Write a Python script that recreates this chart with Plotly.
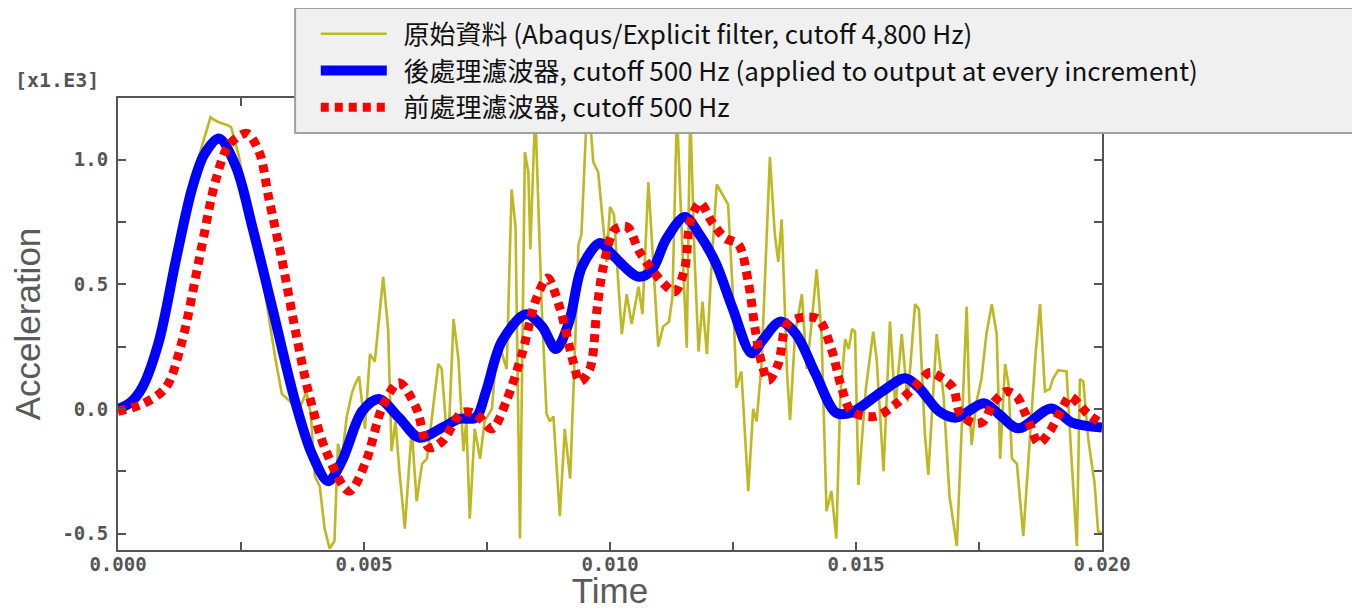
import numpy as np
import plotly.graph_objects as go

# ---------------- data (time in ms, acceleration in x1.E3) ----------------
raw_t_ms = [0, 0.3, 0.5, 0.8, 1.0, 1.2, 1.45, 1.7, 1.88, 1.95, 2.05, 2.2, 2.3, 2.45, 2.7, 3.0, 3.2,
            3.33, 3.5, 3.65, 3.83, 3.92, 4.0, 4.1, 4.2, 4.3, 4.4, 4.47, 4.55, 4.65, 4.75, 4.82, 4.9,
            5.02, 5.12, 5.22, 5.39, 5.49, 5.56, 5.64, 5.72, 5.83, 5.97, 6.07, 6.18, 6.28, 6.51, 6.58,
            6.66, 6.73, 6.82, 6.92, 7.02, 7.08, 7.15, 7.25, 7.36, 7.45, 7.6, 7.7, 7.77, 7.9, 8.0,
            8.08, 8.17, 8.27, 8.34, 8.38, 8.48, 8.61, 8.71, 8.78, 8.85, 8.98, 9.08, 9.19, 9.29, 9.36,
            9.42, 9.53, 9.6, 9.66, 9.76, 9.93, 10.0, 10.08, 10.17, 10.24, 10.34, 10.44, 10.58, 10.66,
            10.78, 10.88, 10.98, 11.08, 11.2, 11.27, 11.36, 11.48, 11.56, 11.63, 11.72, 11.8, 11.88,
            11.97, 12.07, 12.17, 12.28, 12.4, 12.5, 12.57, 12.67, 12.81, 12.91, 12.98, 13.08, 13.25,
            13.35, 13.42, 13.49, 13.6, 13.66, 13.76, 13.9, 14.0, 14.1, 14.2, 14.3, 14.4, 14.5, 14.6,
            14.68, 14.78, 14.85, 14.92, 14.98, 15.05, 15.2, 15.35, 15.42, 15.56, 15.69, 15.8, 15.85,
            15.93, 16.05, 16.2, 16.28, 16.4, 16.47, 16.64, 16.78, 16.9, 17.05, 17.15, 17.25, 17.3,
            17.35, 17.45, 17.55, 17.65, 17.76, 17.86, 17.93, 18.03, 18.1, 18.17, 18.27, 18.4, 18.55,
            18.65, 18.74, 18.84, 18.94, 19.0, 19.11, 19.28, 19.38, 19.49, 19.55, 19.62, 19.72, 19.85,
            19.92, 20.0]
raw_acc = [0.0, 0.03, 0.08, 0.25, 0.42, 0.62, 0.86, 1.05, 1.17, 1.16, 1.15, 1.14, 1.13, 1.02, 0.76,
           0.45, 0.2, 0.06, 0.03, -0.02, 0.07, -0.02, -0.27, -0.31, -0.48, -0.56, -0.53, -0.14, -0.2,
           -0.03, 0.06, 0.1, 0.13, -0.08, 0.22, 0.19, 0.53, 0.32, -0.17, -0.05, -0.25, -0.48, -0.08,
           -0.37, -0.22, -0.2, 0.18, 0.16, -0.05, -0.06, 0.36, 0.2, -0.17, -0.05, -0.44, -0.08, -0.2,
           -0.05, 0.0, 0.245, 0.245, 0.16, 0.88, 0.73, -0.52, 1.03, 0.95, 0.64, 1.2, 0.42, -0.02,
           -0.05, -0.03, -0.43, -0.08, -0.28, 0.25, 0.66, 0.7, 1.2, 1.15, 0.99, 0.95, 0.59, 0.81,
           0.78, 0.5, 0.3, 0.46, 0.34, 0.49, 0.38, 0.91, 0.6, 0.25, 0.33, 0.35, 0.45, 1.2, 0.6, 0.245,
           1.2, 0.6, 0.23, 0.43, 0.22, 0.6, 0.9, 0.86, 0.82, 0.45, 0.085, 0.15, -0.33, 0.0, -0.05,
           0.18, 1.01, 0.7, 0.59, 0.76, 0.14, -0.045, 0.3, 0.46, 0.16, 0.35, 0.56, 0.3, -0.41, -0.33,
           -0.52, 0.05, 0.28, 0.24, 0.32, 0.31, -0.305, 0.08, 0.31, 0.2, -0.25, 0.35, 0.0, 0.12, 0.3,
           0.03, 0.42, 0.4, -0.1, -0.265, 0.3, 0.05, -0.35, -0.55, -0.08, 0.41, 0.05, -0.145, 0.03,
           0.12, 0.3, 0.42, 0.3, -0.2, 0.18, 0.1, -0.2, -0.22, -0.51, -0.08, 0.22, 0.42, 0.07, 0.08,
           0.12, 0.155, 0.15, -0.2, -0.55, 0.12, 0.11, -0.12, -0.3, -0.49, -0.5]

post_t_ms = [0, 0.25, 0.49, 0.83, 1.18, 1.5, 1.75, 2.05, 2.4, 2.73, 3.13, 3.6, 3.94, 4.27, 4.55, 4.96,
             5.3, 5.71, 6.12, 6.59, 6.93, 7.27, 7.48, 7.8, 8.29, 8.62, 8.9, 9.17, 9.43, 9.8, 10.04,
             10.58, 10.85, 11.14, 11.52, 11.8, 12.15, 12.48, 12.88, 13.1, 13.46, 13.78, 14.18, 14.59,
             14.9, 15.53, 16.0, 16.28, 16.69, 17.04, 17.6, 17.9, 18.3, 18.97, 19.39, 20.0]
post_acc = [0.0, 0.025, 0.085, 0.27, 0.60, 0.88, 1.02, 1.085, 0.97, 0.73, 0.41, 0.03, -0.18, -0.29,
            -0.21, -0.01, 0.04, -0.035, -0.115, -0.075, -0.04, -0.035, 0.07, 0.27, 0.38, 0.33, 0.24,
            0.35, 0.57, 0.665, 0.62, 0.53, 0.556, 0.68, 0.77, 0.705, 0.585, 0.41, 0.223, 0.275, 0.35,
            0.30, 0.14, -0.015, -0.015, 0.07, 0.123, 0.085, -0.01, -0.035, 0.023, -0.02, -0.078,
            0.002, -0.055, -0.075]

pre_t_ms = [0, 0.5, 0.97, 1.3, 1.65, 1.99, 2.26, 2.62, 2.87, 3.07, 3.33, 3.62, 3.88, 4.23, 4.7, 5.04,
            5.37, 5.71, 6.06, 6.32, 6.59, 6.99, 7.27, 7.6, 7.89, 8.21, 8.5, 8.73, 8.98, 9.25, 9.39,
            9.59, 9.73, 9.86, 10.1, 10.35, 10.6, 11.1, 11.32, 11.52, 11.63, 11.83, 12.07, 12.34,
            12.61, 12.81, 12.95, 13.08, 13.22, 13.42, 13.59, 13.83, 14.23, 14.5, 14.71, 14.91, 15.39,
            15.83, 16.23, 16.5, 16.77, 16.98, 17.11, 17.4, 17.59, 17.79, 18.06, 18.27, 18.4, 18.55,
            18.71, 18.94, 19.21, 19.35, 19.55, 19.71, 20.0]
pre_acc = [-0.01, 0.02, 0.085, 0.27, 0.60, 0.92, 1.06, 1.105, 1.03, 0.84, 0.60, 0.30, 0.06, -0.17,
           -0.33, -0.21, 0.005, 0.105, 0.005, -0.155, -0.13, -0.015, -0.02, -0.08, 0.03, 0.22, 0.44,
           0.525, 0.405, 0.19, 0.11, 0.16, 0.39, 0.565, 0.72, 0.73, 0.63, 0.50, 0.47, 0.565, 0.75,
           0.826, 0.75, 0.685, 0.66, 0.51, 0.32, 0.185, 0.115, 0.18, 0.337, 0.364, 0.36, 0.24, 0.083,
           -0.01, -0.03, 0.023, 0.096, 0.146, 0.12, 0.083, -0.016, -0.058, -0.05, 0.023, 0.07, 0.05,
           0.0, -0.07, -0.138, -0.09, 0.01, 0.05, 0.015, -0.02, -0.06]

series_names = ["原始資料 (Abaqus/Explicit filter, cutoff 4,800 Hz)",
                "後處理濾波器, cutoff 500 Hz (applied to output at every increment)",
                "前處理濾波器, cutoff 500 Hz"]

x_tick_vals = [0.0, 0.0025, 0.005, 0.0075, 0.010, 0.0125, 0.015, 0.0175, 0.020]
x_tick_text = ["0.000", "", "0.005", "", "0.010", "", "0.015", "", "0.020"]
y_tick_vals = [-0.5, -0.25, 0.0, 0.25, 0.5, 0.75, 1.0]
y_tick_text = ["-0.5", "", "0.0", "", "0.5", "", "1.0"]

# ---------------- figure ----------------
ms = 1e-3
gap = "\u00a0\u00a0"
fig = go.Figure()
fig.add_trace(go.Scatter(x=np.array(raw_t_ms) * ms, y=raw_acc, mode="lines", name=gap + series_names[0],
                         line=dict(color="rgb(190,184,34)", width=2.6)))
fig.add_trace(go.Scatter(x=np.array(post_t_ms) * ms, y=post_acc, mode="lines", name=gap + series_names[1],
                         line=dict(color="#0000ff", width=10, shape="spline", smoothing=0.9)))
fig.add_trace(go.Scatter(x=np.array(pre_t_ms) * ms, y=pre_acc, mode="lines", name=gap + series_names[2],
                         line=dict(color="#ff0000", width=9, dash="8px,6px", shape="spline",
                                   smoothing=0.9)))

tick_font = dict(family="DejaVu Sans Mono", size=19, color="#555555", weight="bold")
title_font = dict(family="Liberation Sans", size=35, color="#5a5a5a")

# page has an 8px body margin: figure is 8px smaller and margins shifted accordingly
fig.update_layout(
    width=1352, height=602,
    margin=dict(l=110, r=258, t=90, b=60, autoexpand=False),
    paper_bgcolor="white", plot_bgcolor="white",
    showlegend=True,
    legend=dict(x=0.201, y=1.194, xanchor="left", yanchor="top",
                bgcolor="rgba(0,0,0,0)", borderwidth=0,
                font=dict(family="Noto Sans CJK TC", size=26, color="#111111"),
                itemwidth=66, tracegroupgap=0),
    xaxis=dict(range=[0, 0.020], tickvals=x_tick_vals, ticktext=x_tick_text,
               ticks="inside", ticklen=8, tickwidth=2, tickcolor="#555555",
               showline=True, linecolor="#555555", linewidth=2, mirror="ticks",
               showgrid=False, zeroline=False, tickfont=tick_font, automargin=False,
               ticklabelstandoff=-4,
               title=dict(text="Time", font=title_font, standoff=6)),
    yaxis=dict(range=[-0.566, 1.247], tickvals=y_tick_vals, ticktext=y_tick_text,
               ticks="inside", ticklen=8, tickwidth=2, tickcolor="#555555",
               showline=True, linecolor="#555555", linewidth=2, mirror="ticks",
               showgrid=False, zeroline=False, tickfont=tick_font, automargin=False,
               ticklabelstandoff=4,
               title=dict(text="Acceleration", font=title_font, standoff=16)),
    shapes=[dict(type="rect", xref="paper", yref="paper", x0=0.18, x1=1.2571, y0=0.9226, y1=1.1991,
                 fillcolor="#f0f0f0", line=dict(color="#a0a0a0", width=2), layer="above")],
    annotations=[dict(text="[x1.E3]", xref="paper", yref="paper", x=-0.062, y=1.04,
                      xanchor="center", yanchor="middle",
                      showarrow=False, font=dict(family="DejaVu Sans Mono", size=20,
                                                 color="#555555", weight="bold"))],
)

fig.write_html("out.html")
